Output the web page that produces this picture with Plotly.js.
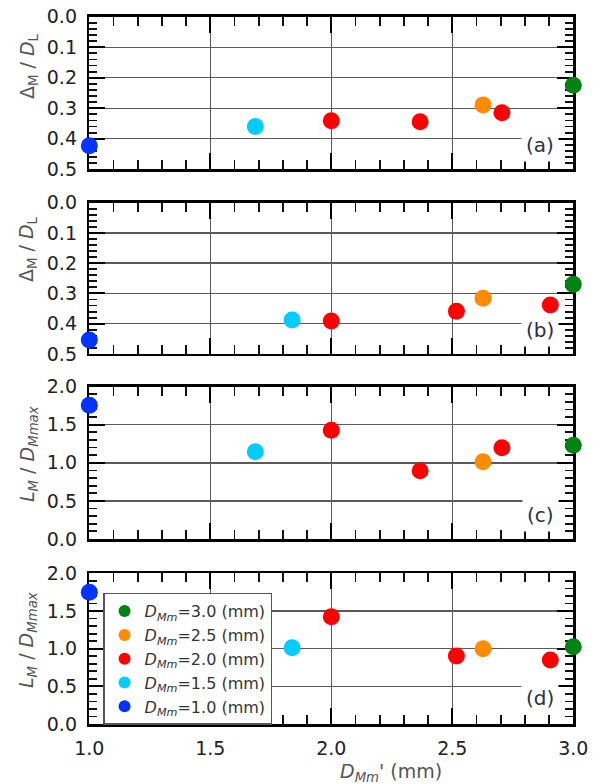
<!DOCTYPE html>
<html><head><meta charset="utf-8">
<script src="https://cdn.plot.ly/plotly-3.0.1.min.js"></script>
<style>body{margin:0;background:#fff;}</style>
</head><body><div id="chart" style="width:601px;height:784px;"></div>
<script>
// Series: D_Mm values (legend order) and colours
const seriesLabels = ['3.0', '2.5', '2.0', '1.5', '1.0'];
const seriesColors = ['#008214', '#ff8c00', '#ff0000', '#00ccff', '#0033ff'];
// D_Mm' (mm) x-values for panels (a) and (c)
const xAC = [[3.0], [2.627], [2.0, 2.367, 2.705], [1.686], [1.0]];
// D_Mm' (mm) x-values for panels (b) and (d)
const xBD = [[3.0], [2.627], [2.0, 2.517, 2.905], [1.838], [1.0]];
// Delta_M / D_L
const yA = [[0.225], [0.289], [0.341, 0.344, 0.315], [0.360], [0.423]];
const yB = [[0.270], [0.316], [0.391, 0.359, 0.338], [0.388], [0.454]];
// L_M / D_Mmax
const yC = [[1.230], [1.015], [1.427, 0.897, 1.199], [1.146], [1.756]];
const yD = [[1.026], [1.000], [1.424, 0.902, 0.849], [1.013], [1.748]];
const panelLabels = ['(a)', '(b)', '(c)', '(d)'];
// major tick positions (labels are these values with one decimal)
const xTickVals = [1.0, 1.5, 2.0, 2.5, 3.0];
const yTickValsDelta = [0, 0.1, 0.2, 0.3, 0.4, 0.5];
const yTickValsL = [0, 0.5, 1.0, 1.5, 2.0];

const FONT = 'DejaVu Sans, sans-serif';
const panels = [
  {xs: xAC, ys: yA},
  {xs: xBD, ys: yB},
  {xs: xAC, ys: yC},
  {xs: xBD, ys: yD}
];
const yDomains = [[0.7841, 0.9787], [0.5485, 0.7415], [0.3125, 0.5068], [0.0765, 0.2687]];

const traces = [];
panels.forEach((p, pi) => {
  const sfx = pi === 0 ? '' : String(pi + 1);
  seriesLabels.forEach((lab, si) => {
    traces.push({
      type: 'scatter', mode: 'markers',
      x: p.xs[si], y: p.ys[si],
      xaxis: 'x' + sfx, yaxis: 'y' + sfx,
      name: '<i>D</i><sub><i>Mm</i></sub>=' + lab + ' (mm)',
      showlegend: pi === 3,
      cliponaxis: false,
      marker: {color: seriesColors[si], size: 17},
      hoverinfo: 'skip'
    });
  });
});

function axisBase() {
  return {
    ticks: 'inside', ticklen: 16, tickwidth: 2, tickcolor: '#000',
    showgrid: true, gridcolor: '#5a5a5a', gridwidth: 1.4,
    showline: true, linecolor: '#000', linewidth: 2.5,
    mirror: 'allticks', zeroline: false, layer: 'below traces',
    tickfont: {family: FONT, size: 19, color: '#222'},
    tickformat: '.1f',
    fixedrange: true
  };
}

const layout = {
  width: 601, height: 784,
  margin: {l: 0, r: 0, t: 0, b: 0},
  paper_bgcolor: '#fff', plot_bgcolor: '#fff',
  showlegend: true,
  legend: {
    x: 0.1715, y: 0.2440, xanchor: 'left', yanchor: 'top',
    bgcolor: '#fff', bordercolor: '#555', borderwidth: 1.5,
    font: {family: FONT, size: 16, color: '#333'},
    itemsizing: 'constant', traceorder: 'normal', tracegroupgap: 0
  },
  annotations: [],
  font: {family: FONT}
};

for (let i = 0; i < 4; i++) {
  const sfx = i === 0 ? '' : String(i + 1);
  const xa = Object.assign(axisBase(), {
    domain: [0.1486, 0.9539], range: [1, 3], anchor: 'y' + sfx,
    tickmode: 'linear', tick0: xTickVals[0], dtick: xTickVals[1] - xTickVals[0],
    showticklabels: i === 3, ticklabelstandoff: 6,
    minor: {tickmode: 'linear', tick0: 1, dtick: 0.1, ticks: 'inside', ticklen: 9, tickwidth: 1.8, tickcolor: '#111', showgrid: false}
  });
  const isDelta = i < 2;
  const tv = isDelta ? yTickValsDelta : yTickValsL;
  const ya = Object.assign(axisBase(), {
    domain: yDomains[i], anchor: 'x' + sfx,
    range: isDelta ? [0.5, 0] : [0, 2], autorange: false,
    tickmode: 'linear', tick0: tv[0], dtick: tv[1] - tv[0],
    ticklabelstandoff: 6,
    minor: {tickmode: 'linear', tick0: 0, dtick: isDelta ? 0.02 : 0.1, ticks: 'inside', ticklen: 8, tickwidth: 1.8, tickcolor: '#111', showgrid: false}
  });
  layout['xaxis' + sfx] = xa;
  layout['yaxis' + sfx] = ya;
}

// panel labels
const labelY = [0.8148, 0.5791, 0.3431, 0.1097];
panelLabels.forEach((t, i) => {
  layout.annotations.push({
    xref: 'paper', yref: 'paper', x: 0.8993, y: labelY[i],
    xanchor: 'center', yanchor: 'middle', showarrow: false,
    text: t, bgcolor: '#fff', borderpad: 4,
    font: {family: FONT, size: 20, color: '#2a3040'}
  });
});

// y-axis titles
const yTitles = [
  'Δ<sub>M</sub> / <i>D</i><sub>L</sub>',
  'Δ<sub>M</sub> / <i>D</i><sub>L</sub>',
  '<i>L</i><sub><i>M</i></sub> / <i>D</i><sub><i>Mmax</i></sub>',
  '<i>L</i><sub><i>M</i></sub> / <i>D</i><sub><i>Mmax</i></sub>'
];
const yTitleY = [0.9158, 0.6824, 0.4209, 0.1837];
yTitles.forEach((t, i) => {
  layout.annotations.push({
    xref: 'paper', yref: 'paper', x: 0.0466, y: yTitleY[i],
    xanchor: 'center', yanchor: 'middle', showarrow: false,
    textangle: -90, text: t,
    font: {family: FONT, size: 19, color: '#555'}
  });
});
// x-axis title
layout.annotations.push({
  xref: 'paper', yref: 'paper', x: 0.6506, y: 0.0153,
  xanchor: 'center', yanchor: 'middle', showarrow: false,
  text: "<i>D</i><sub><i>Mm</i></sub>' (mm)",
  font: {family: FONT, size: 19, color: '#555'}
});

Plotly.newPlot('chart', traces, layout, {displayModeBar: false, staticPlot: true});
</script>
</body></html>
